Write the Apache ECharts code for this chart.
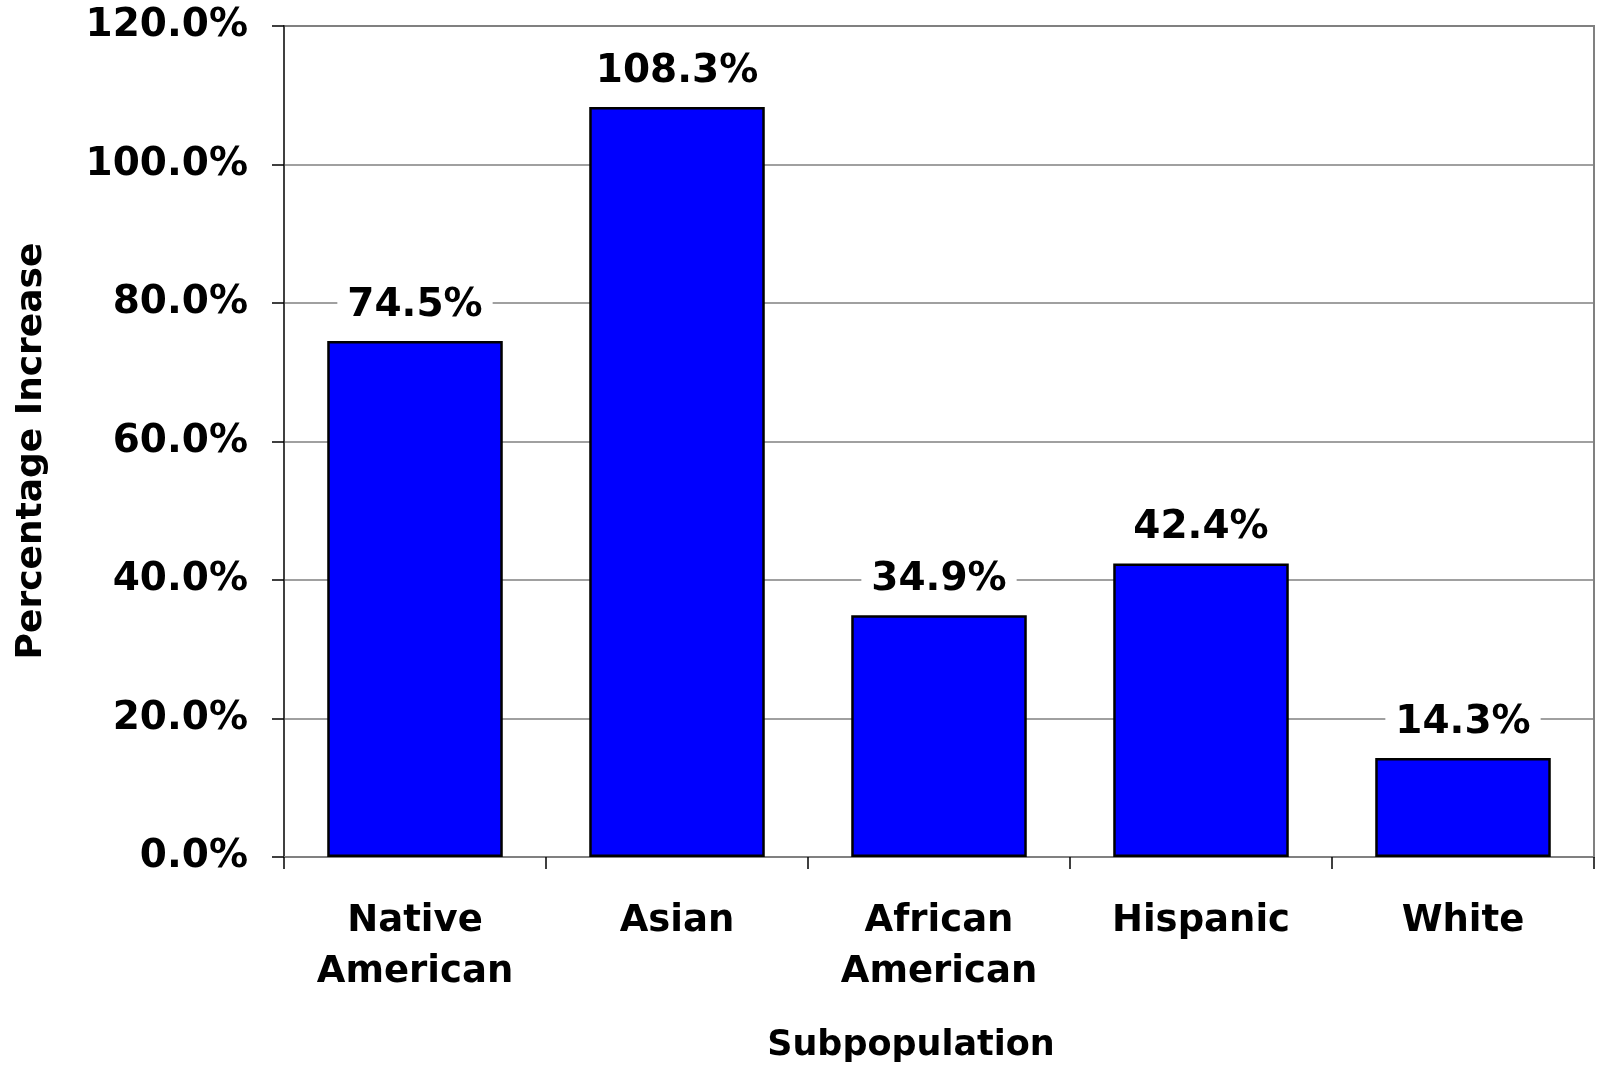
<!DOCTYPE html>
<html>
<head>
<meta charset="utf-8">
<script src="https://cdn.jsdelivr.net/npm/echarts@6/dist/echarts.min.js"></script>
<style>
html,body{margin:0;padding:0;background:#fff;}
#chart{width:1600px;height:1068px;}
</style>
</head>
<body>
<div id="chart"></div>
<script>
const categories = ['Native\nAmerican', 'Asian', 'African\nAmerican', 'Hispanic', 'White'];
const values = [74.5, 108.3, 34.9, 42.4, 14.3];
const yTicks = { min: 0, max: 120, interval: 20 };
const yName = 'Percentage Increase';
const xName = 'Subpopulation';

const FONT = '"DejaVu Sans", Verdana, sans-serif';
const chart = echarts.init(document.getElementById('chart'), null, { renderer: 'canvas' });
chart.setOption({
  animation: false,
  backgroundColor: '#ffffff',
  grid: {
    left: 284, right: 6, top: 26, bottom: 207,
    show: true, borderColor: '#808080', borderWidth: 2
  },
  xAxis: {
    type: 'category',
    data: categories,
    name: xName,
    nameLocation: 'middle',
    nameGap: 171,
    nameTextStyle: { fontFamily: FONT, fontWeight: 'bold', fontSize: 35, color: '#000', padding: [0, 56, 0, 0] },
    axisLine: { show: true, lineStyle: { color: '#808080', width: 2 } },
    axisTick: { show: true, alignWithLabel: false, length: 12, lineStyle: { color: '#000', width: 1.5 } },
    axisLabel: { fontFamily: FONT, fontWeight: 'bold', fontSize: 37, color: '#000', margin: 39, lineHeight: 51, interval: 0 }
  },
  yAxis: {
    type: 'value',
    min: yTicks.min, max: yTicks.max, interval: yTicks.interval,
    name: yName,
    nameLocation: 'middle',
    nameGap: 234,
    nameTextStyle: { fontFamily: FONT, fontWeight: 'bold', fontSize: 36, color: '#000', padding: [0, 19, 0, 0] },
    axisLine: { show: true, lineStyle: { color: '#404040', width: 2 } },
    axisTick: { show: true, length: 12, lineStyle: { color: '#000', width: 1.5 } },
    axisLabel: {
      fontFamily: FONT, fontWeight: 'bold', fontSize: 39, color: '#000', margin: 36,
      formatter: v => v.toFixed(1) + '%'
    },
    splitLine: { show: true, lineStyle: { color: '#808080', width: 1.5 } }
  },
  series: [{
    type: 'bar',
    data: values,
    barCategoryGap: '33%',
    itemStyle: { color: '#0000FF', borderColor: '#000', borderWidth: 2.5 },
    label: {
      show: true,
      position: 'top',
      distance: 14,
      formatter: p => p.value.toFixed(1) + '%',
      fontFamily: FONT, fontWeight: 'bold', fontSize: 39, color: '#000',
      backgroundColor: '#ffffff',
      padding: [2, 10]
    }
  }]
});
</script>
</body>
</html>
